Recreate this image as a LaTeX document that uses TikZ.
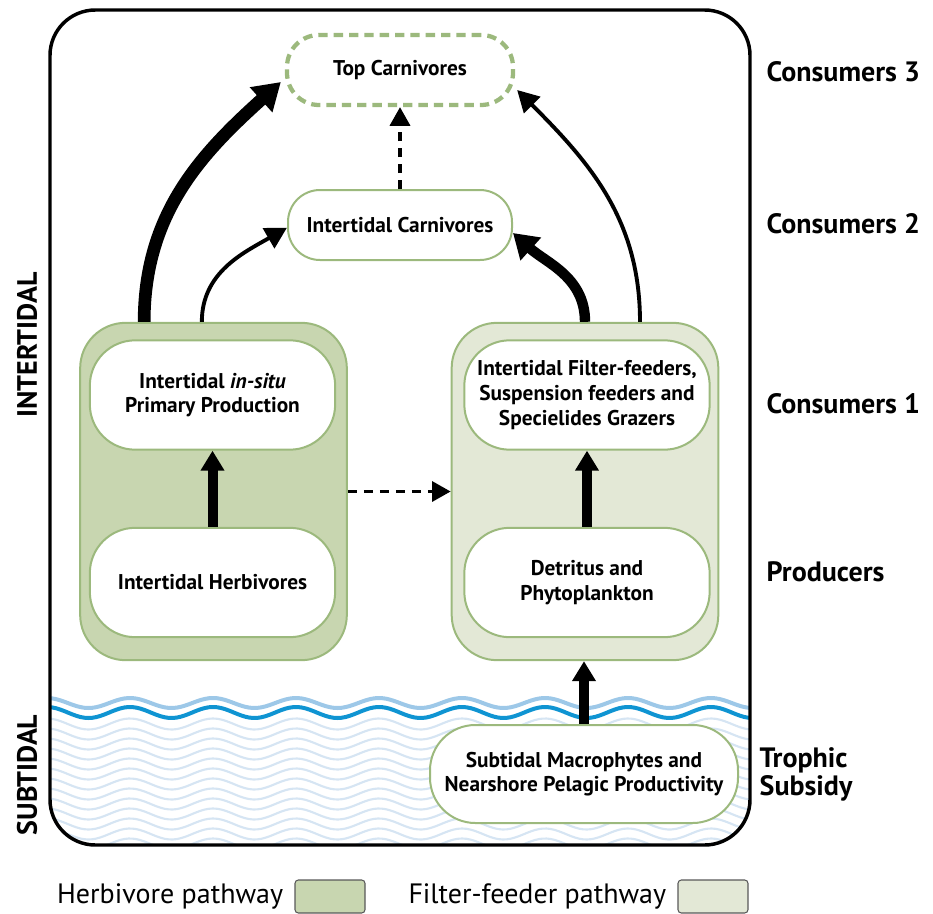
\documentclass[tikz,border=0pt]{standalone}
\usepackage{fontspec}
\setmainfont{PT Sans}
\usetikzlibrary{arrows.meta}
\definecolor{herb}{RGB}{200,214,176}
\definecolor{filt}{RGB}{227,232,214}
\definecolor{gline}{RGB}{156,185,125}
\definecolor{wlight}{RGB}{157,200,232}
\definecolor{wdark}{RGB}{15,148,210}
\definecolor{wfaint}{RGB}{214,229,243}
\begin{document}
\begin{tikzpicture}[x=0.75pt,y=-0.75pt,
  nodefont/.style={font=\fontsize{16pt}{18.5pt}\selectfont\bfseries},
  lvl/.style={anchor=west,font=\fontsize{21pt}{21pt}\selectfont\bfseries},
  zone/.style={rotate=90,font=\fontsize{21pt}{21pt}\selectfont\bfseries},
  legtext/.style={anchor=east,font=\fontsize{21pt}{24pt}\selectfont},
  legbox/.style={draw=black!65,line width=0.8pt,rounded corners=2.5pt,minimum width=52.5pt,minimum height=24.75pt,inner sep=0pt},
  pathbox/.style={draw=gline,line width=1.5pt,rounded corners=34pt,minimum width=200pt,minimum height=253pt,inner sep=0pt},
  inner/.style={nodefont,draw=gline,line width=1.5pt,fill=white,rounded corners=34pt,minimum width=184pt,minimum height=82pt,align=center,inner sep=2pt},
  flat/.style={nodefont,draw=gline,line width=1.5pt,fill=white,rounded corners=24pt,minimum width=168pt,minimum height=52.5pt,align=center},
  thickv/.style={line width=7.5pt,-{Triangle[length=15pt,width=17pt]}},
  heavy/.style={line width=9.5pt,-{Triangle[length=20pt,width=24pt]}},
  medium/.style={line width=7.8pt,-{Triangle[length=18pt,width=22pt]}},
  thin/.style={line width=2.9pt,-{Triangle[length=16pt,width=17pt]}},
  dashedarrow/.style={line width=2.6pt,dash pattern=on 7pt off 5pt,-{Triangle[length=14pt,width=15pt]}}
]
\useasboundingbox (0,0) rectangle (933,914);

% water
\begin{scope}
  \clip[rounded corners=34pt] (50,10) rectangle (750,845);
  \foreach \c in {724,734,...,864} {
    \draw[wfaint,line width=1.6pt] plot[domain=40:760,samples=180,smooth] (\x,{\c-5.5*cos(4.3373*(\x-130))});
  }
  \draw[wlight,line width=3pt] plot[domain=40:760,samples=180,smooth] (\x,{703-5*cos(4.3373*(\x-130))});
  \draw[wdark,line width=3pt] plot[domain=40:760,samples=180,smooth] (\x,{712.5-5.5*cos(4.3373*(\x-130))});
\end{scope}

% outer frame
\draw[line width=2.6pt,rounded corners=34pt] (50,10) rectangle (750,845);

% pathway boxes
\node[pathbox,fill=herb] (herbbox) at (213.5,491.5) {};
\node[pathbox,fill=filt] (filtbox) at (585,491.5) {};

% nodes
\node[inner] (ipp) at (212.5,395) {Intertidal \textit{in-situ}\\Primary Production};
\node[inner] (iherb) at (212.5,582.5) {Intertidal Herbivores};
\node[inner] (iff) at (587,395) {Intertidal Filter-feeders,\\Suspension feeders and\\Specielides Grazers};
\node[inner] (det) at (587,582.5) {Detritus and\\Phytoplankton};
\node[flat] (icarn) at (400,225) {Intertidal Carnivores};
\node[flat,draw=gline,line width=3.2pt,dash pattern=on 7pt off 4.5pt,minimum width=169.5pt] (top) at (400,70) {Top Carnivores};
\node[inner,minimum width=231pt,minimum height=73.5pt] (sub) at (584,774) {Subtidal Macrophytes and\\Nearshore Pelagic Productivity};

% arrows
\draw[thickv] (iherb.north) -- (ipp.south);
\draw[thickv] (det.north) -- (iff.south);
\draw[thickv] (sub.north) -- (sub.north |- filtbox.south);
\draw[dashedarrow] (herbbox.east) -- (filtbox.west);
\draw[dashedarrow] (icarn.north) -- (top.south);
\draw[heavy] ([xshift=48.75pt]herbbox.north west) to[out=90,in=222] ([xshift=-3pt,yshift=-9pt]top.west);
\draw[thin] ([xshift=92pt]herbbox.north west) to[out=90,in=210] ([yshift=-2pt]icarn.west);
\draw[medium] (filtbox.north) to[out=90,in=-42] ([yshift=-6pt]icarn.east);
\draw[thin] ([xshift=41.25pt]filtbox.north) to[out=90,in=-45] ([xshift=1.5pt,yshift=-15pt]top.east);

% level labels
\node[lvl] (c3) at (762,72) {Consumers 3};
\node[lvl] (c2) at (762,224) {Consumers 2};
\node[lvl] (c1) at (762,404) {Consumers 1};
\node[lvl] (pr) at (762,572) {Producers};
\node[lvl,align=left] (ts) at (755,774) {Trophic\\Subsidy};

% zone labels
\node[zone] (zi) at (27,345) {INTERTIDAL};
\node[zone] (zs) at (27,775) {SUBTIDAL};

% legend
\node[legbox,fill=herb] (lb1) at (330,896.5) {};
\node[legtext] (lt1) at ([xshift=-5pt]lb1.west) {Herbivore pathway};
\node[legbox,fill=filt] (lb2) at (713,896.5) {};
\node[legtext] (lt2) at ([xshift=-5pt]lb2.west) {Filter-feeder pathway};
\end{tikzpicture}
\end{document}
